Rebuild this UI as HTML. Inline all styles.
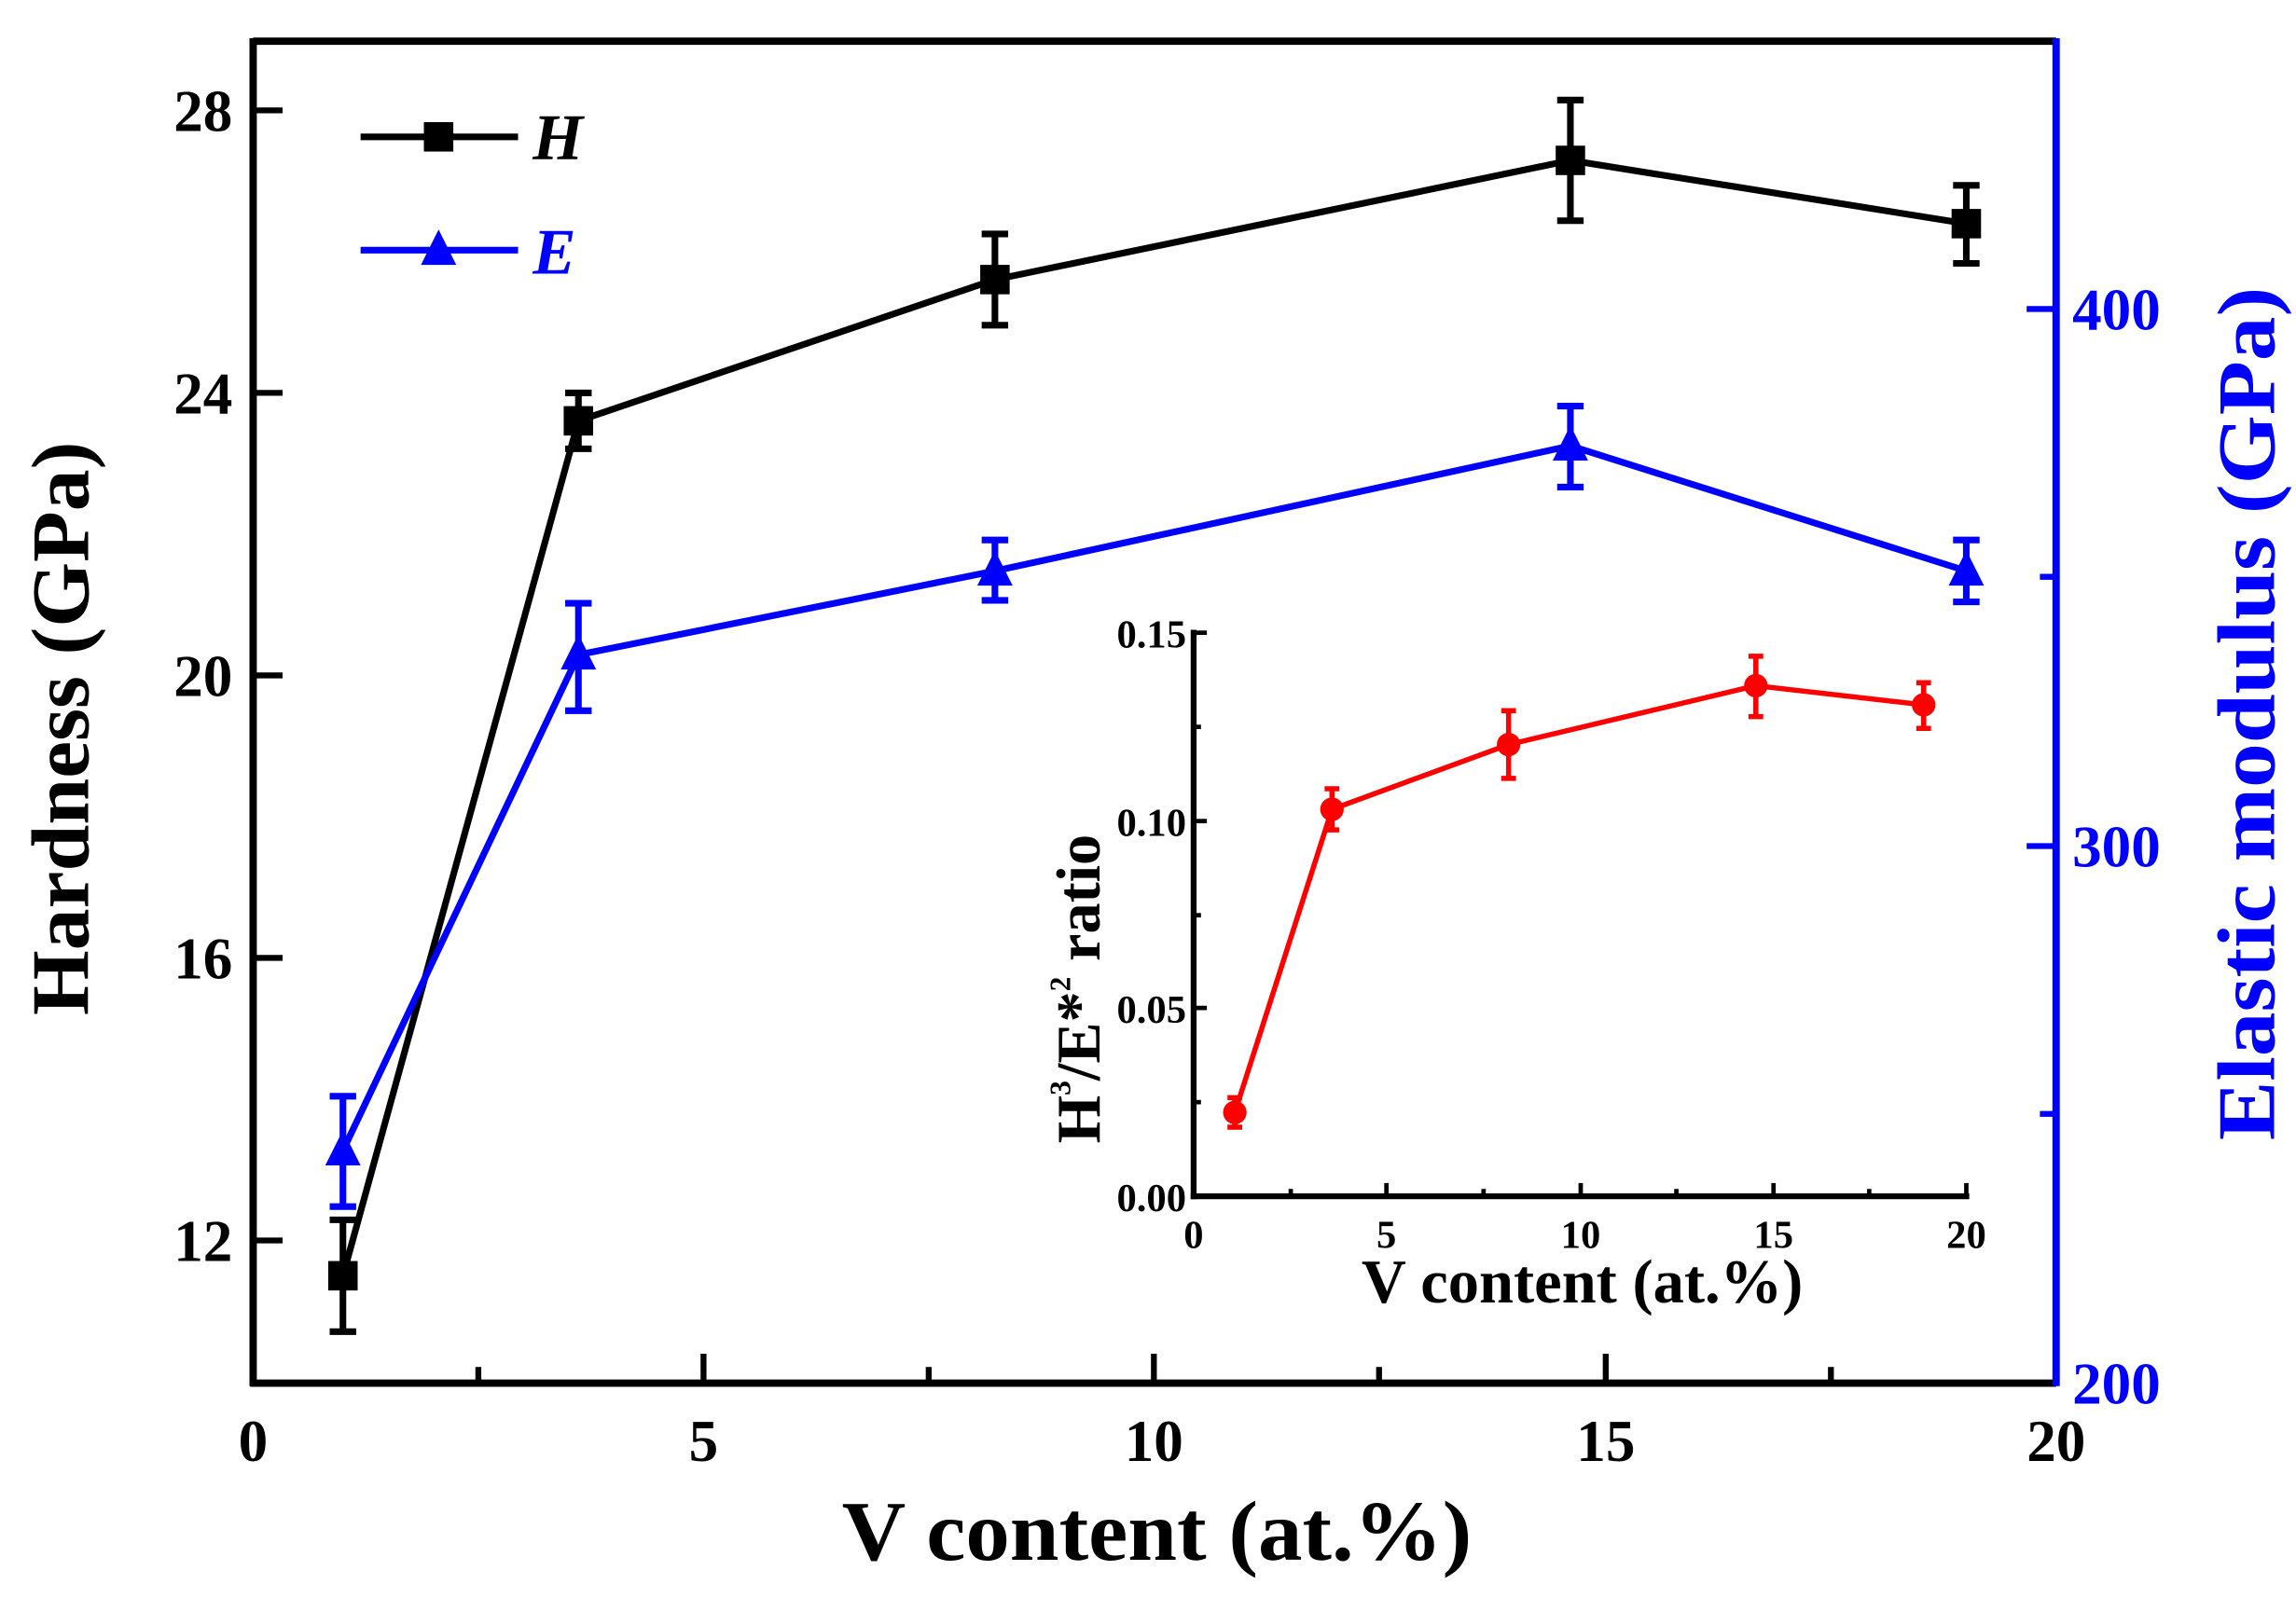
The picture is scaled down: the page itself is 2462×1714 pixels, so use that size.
<!DOCTYPE html>
<html><head><meta charset="utf-8"><style>html,body{margin:0;padding:0;background:#fff}svg{display:block}</style></head>
<body>
<svg width="2462" height="1714" viewBox="0 0 1560 1086" preserveAspectRatio="none" xmlns="http://www.w3.org/2000/svg" font-family="Liberation Serif, serif" font-weight="bold">
<rect width="1560" height="1086" fill="#fff"/>
<line x1="172" y1="28" x2="1397" y2="28" stroke="#000" stroke-width="5"/>
<line x1="172" y1="26" x2="172" y2="942" stroke="#000" stroke-width="5"/>
<line x1="170" y1="940" x2="1397" y2="940" stroke="#000" stroke-width="5"/>
<line x1="1397" y1="26" x2="1397" y2="942" stroke="#0000ff" stroke-width="5"/>
<g stroke="#000" stroke-width="4">
<line x1="478" y1="940" x2="478" y2="920"/><line x1="784" y1="940" x2="784" y2="920"/><line x1="1091" y1="940" x2="1091" y2="920"/>
<line x1="325" y1="940" x2="325" y2="929"/><line x1="631" y1="940" x2="631" y2="929"/><line x1="937" y1="940" x2="937" y2="929"/><line x1="1244" y1="940" x2="1244" y2="929"/>
<line x1="172" y1="75" x2="192" y2="75"/><line x1="172" y1="267" x2="192" y2="267"/><line x1="172" y1="459" x2="192" y2="459"/><line x1="172" y1="651" x2="192" y2="651"/><line x1="172" y1="843" x2="192" y2="843"/>
</g>
<g stroke="#0000ff" stroke-width="4">
<line x1="1397" y1="210" x2="1377" y2="210"/><line x1="1397" y1="575" x2="1377" y2="575"/>
<line x1="1397" y1="392" x2="1386" y2="392"/><line x1="1397" y1="757" x2="1386" y2="757"/>
</g>
<g font-size="40" text-anchor="middle" fill="#000">
<text x="172" y="993">0</text><text x="478" y="993">5</text><text x="784" y="993">10</text><text x="1091" y="993">15</text><text x="1397" y="993">20</text>
</g>
<g font-size="40" text-anchor="end" fill="#000">
<text x="158" y="89">28</text><text x="158" y="281">24</text><text x="158" y="473">20</text><text x="158" y="665">16</text><text x="158" y="857">12</text>
</g>
<g font-size="40" fill="#0000ff">
<text x="1408" y="224">400</text><text x="1408" y="589">300</text><text x="1408" y="954">200</text>
</g>
<text x="786" y="1060" font-size="58" text-anchor="middle" textLength="428" lengthAdjust="spacingAndGlyphs">V content (at.%)</text>
<text transform="translate(60,495) rotate(-90)" font-size="56" text-anchor="middle" textLength="390" lengthAdjust="spacingAndGlyphs">Hardness (GPa)</text>
<text transform="translate(1545,485) rotate(-90)" font-size="56" text-anchor="middle" fill="#0000ff" textLength="580" lengthAdjust="spacingAndGlyphs">Elastic modulus (GPa)</text>
<g stroke="#000" stroke-width="4.5" fill="none">
<polyline points="233,867 393,286 676,190 1067,109 1336,152"/>
<path d="M233,829V905M224,829h18M224,905h18 M393,267V305M384,267h18M384,305h18 M676,159V221M667,159h18M667,221h18 M1067,68V150M1058,68h18M1058,150h18 M1336,126V179M1327,126h18M1327,179h18"/>
</g>
<g fill="#000">
<rect x="223" y="857" width="20" height="20"/><rect x="383" y="276" width="20" height="20"/><rect x="666" y="180" width="20" height="20"/><rect x="1057" y="99" width="20" height="20"/><rect x="1326" y="142" width="20" height="20"/>
</g>
<g stroke="#0000ff" stroke-width="4.5" fill="none">
<polyline points="233,782 393,445 676,388 1067,303 1336,388"/>
<path d="M233,745V820M224,745h18M224,820h18 M393,410V483M384,410h18M384,483h18 M676,367V408M667,367h18M667,408h18 M1067,276V331M1058,276h18M1058,331h18 M1336,367V409M1327,367h18M1327,409h18"/>
</g>
<g fill="#0000ff">
<polygon points="233,768 221,792 245,792"/><polygon points="393,431 381,455 405,455"/><polygon points="676,374 664,398 688,398"/><polygon points="1067,289 1055,313 1079,313"/><polygon points="1336,374 1324,398 1348,398"/>
</g>
<line x1="245" y1="93" x2="352" y2="93" stroke="#000" stroke-width="4.5"/>
<rect x="288" y="83" width="20" height="20" fill="#000"/>
<text x="362" y="108" font-size="44" font-style="italic">H</text>
<line x1="245" y1="170" x2="352" y2="170" stroke="#0000ff" stroke-width="4.5"/>
<polygon points="298,156 286,180 310,180" fill="#0000ff"/>
<text x="362" y="186" font-size="44" font-style="italic" fill="#0000ff">E</text>
<line x1="811" y1="428" x2="811" y2="815" stroke="#000" stroke-width="4"/>
<line x1="809" y1="813" x2="1338" y2="813" stroke="#000" stroke-width="4"/>
<g stroke="#000" stroke-width="3">
<line x1="811" y1="430" x2="820" y2="430"/><line x1="811" y1="558" x2="820" y2="558"/><line x1="811" y1="685" x2="820" y2="685"/>
<line x1="811" y1="494" x2="816" y2="494"/><line x1="811" y1="622" x2="816" y2="622"/><line x1="811" y1="749" x2="816" y2="749"/>
<line x1="942" y1="813" x2="942" y2="804"/><line x1="1074" y1="813" x2="1074" y2="804"/><line x1="1205" y1="813" x2="1205" y2="804"/><line x1="1336" y1="813" x2="1336" y2="804"/>
<line x1="877" y1="813" x2="877" y2="808"/><line x1="1008" y1="813" x2="1008" y2="808"/><line x1="1139" y1="813" x2="1139" y2="808"/><line x1="1270" y1="813" x2="1270" y2="808"/>
</g>
<g font-size="27" text-anchor="end">
<text x="806" y="440">0.15</text><text x="806" y="568">0.10</text><text x="806" y="695">0.05</text><text x="806" y="823">0.00</text>
</g>
<g font-size="27" text-anchor="middle">
<text x="811" y="848">0</text><text x="942" y="848">5</text><text x="1074" y="848">10</text><text x="1205" y="848">15</text><text x="1336" y="848">20</text>
</g>
<text x="1075" y="885" font-size="42" text-anchor="middle" textLength="300" lengthAdjust="spacingAndGlyphs">V content (at.%)</text>
<text transform="translate(747,672) rotate(-90)" font-size="42" text-anchor="middle">H<tspan font-size="20" dy="-20">3</tspan><tspan dy="20">/E*</tspan><tspan font-size="20" dy="-20">2</tspan><tspan dy="20"> ratio</tspan></text>
<g stroke="#ff0000" stroke-width="3.5" fill="none">
<polyline points="839,756 905,550 1025,506 1193,466 1307,479"/>
<path d="M839,746V766M834,746h10M834,766h10 M905,536V564M900,536h10M900,564h10 M1025,483V529M1020,483h10M1020,529h10 M1193,446V487M1188,446h10M1188,487h10 M1307,464V495M1302,464h10M1302,495h10"/>
</g>
<g fill="#ff0000">
<circle cx="839" cy="756" r="8"/><circle cx="905" cy="550" r="8"/><circle cx="1025" cy="506" r="8"/><circle cx="1193" cy="466" r="8"/><circle cx="1307" cy="479" r="8"/>
</g>
</svg>
</body></html>
